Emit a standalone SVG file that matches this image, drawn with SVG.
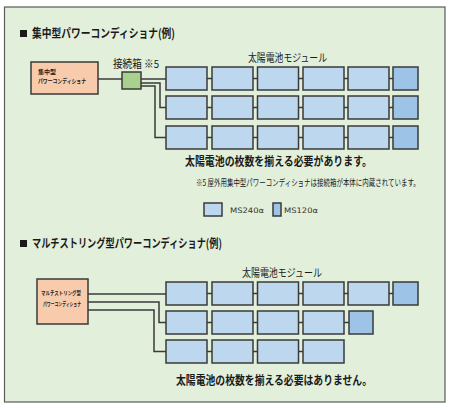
<svg xmlns="http://www.w3.org/2000/svg" width="450" height="410" viewBox="0 0 450 410">
<style>
.jp{font-family:"Noto Sans CJK JP","Noto Sans",sans-serif;fill:#1a1a1a}
.b{font-weight:bold}
.pl{fill:#bdd7ee;stroke:#3a3a3a;stroke-width:1.5}
.ps{fill:#9dc3e6;stroke:#3a3a3a;stroke-width:1.5}
.inv{fill:#f8cbad;stroke:#3a3a3a;stroke-width:1.5}
.jb{fill:#a9d18e;stroke:#3a3a3a;stroke-width:1.5}
.w{fill:none;stroke:#3a3a3a;stroke-width:1.5}
.lat{font-family:"DejaVu Sans",sans-serif;fill:#333}
</style>
<rect x="0" y="0" width="450" height="410" fill="#ffffff"/>
<rect id="frame" x="4.5" y="7" width="440.5" height="395" fill="#e2efda" stroke="#5a5a5a" stroke-width="1.2"/>

<g id="title1">
<rect x="20" y="30" width="7" height="7" fill="#1a1a1a"/>
<text class="jp b" x="32" y="38" font-size="12" textLength="143" lengthAdjust="spacingAndGlyphs">集中型パワーコンディショナ(例)</text>
</g>

<g id="connectors">
<path class="w" d="M98 79H122"/>
<path class="w" d="M141 79H166"/>
<path class="w" d="M141 83H160V107.5H166"/>
<path class="w" d="M141 86H155V137.5H166"/>
<path class="w" d="M207 78.5H212M253 78.5H257.5M298.5 78.5H303M344 78.5H348M389 78.5H393"/>
<path class="w" d="M207 107.5H212M253 107.5H257.5M298.5 107.5H303M344 107.5H348M389 107.5H393"/>
<path class="w" d="M207 137.5H212M253 137.5H257.5M298.5 137.5H303M344 137.5H348M389 137.5H393"/>
<path class="w" d="M88 294H166"/>
<path class="w" d="M88 302H159V322.5H166"/>
<path class="w" d="M88 310H154V351.5H166"/>
<path class="w" d="M207 293.5H212M253 293.5H257.5M298.5 293.5H303M344 293.5H348M389 293.5H393"/>
<path class="w" d="M207 322.5H212M253 322.5H257.5M298.5 322.5H303M344 322.5H349"/>
<path class="w" d="M207 351.5H212M253 351.5H257.5M298.5 351.5H303"/>
</g>

<g id="inverter1">
<rect class="inv" x="31" y="62" width="67" height="32"/>
<text class="jp b" x="38" y="74" font-size="6">集中型</text>
<text class="jp b" x="38" y="83" font-size="6" textLength="48" lengthAdjust="spacingAndGlyphs">パワーコンディショナ</text>
</g>

<g id="junction">
<rect class="jb" x="122" y="72" width="19" height="17"/>
<text class="jp" x="113" y="68" font-size="11" textLength="46" lengthAdjust="spacingAndGlyphs">接続箱 ※5</text>
</g>

<g id="modules1">
<text class="jp" x="248" y="62" font-size="11" textLength="79" lengthAdjust="spacingAndGlyphs">太陽電池モジュール</text>
<rect class="pl" x="166" y="67" width="41" height="23"/>
<rect class="pl" x="212" y="67" width="41" height="23"/>
<rect class="pl" x="257.5" y="67" width="41" height="23"/>
<rect class="pl" x="303" y="67" width="41" height="23"/>
<rect class="pl" x="348" y="67" width="41" height="23"/>
<rect class="ps" x="393" y="67" width="25" height="23"/>
<rect class="pl" x="166" y="96" width="41" height="23"/>
<rect class="pl" x="212" y="96" width="41" height="23"/>
<rect class="pl" x="257.5" y="96" width="41" height="23"/>
<rect class="pl" x="303" y="96" width="41" height="23"/>
<rect class="pl" x="348" y="96" width="41" height="23"/>
<rect class="ps" x="393" y="96" width="25" height="23"/>
<rect class="pl" x="166" y="126" width="41" height="23"/>
<rect class="pl" x="212" y="126" width="41" height="23"/>
<rect class="pl" x="257.5" y="126" width="41" height="23"/>
<rect class="pl" x="303" y="126" width="41" height="23"/>
<rect class="pl" x="348" y="126" width="41" height="23"/>
<rect class="ps" x="393" y="126" width="25" height="23"/>
</g>

<g id="notes1">
<text class="jp b" x="185" y="166" font-size="12" textLength="187" lengthAdjust="spacingAndGlyphs">太陽電池の枚数を揃える必要があります。</text>
<text class="jp" transform="translate(196,185.5) scale(0.72,1)" x="0" y="0" font-size="9">※5 屋外用集中型パワーコンディショナは接続箱が本体に内蔵されています。</text>
</g>

<g id="legend">
<rect class="pl" x="204" y="203" width="18" height="13"/>
<text class="lat" x="230" y="213" font-size="7.5" textLength="34" lengthAdjust="spacingAndGlyphs">MS240α</text>
<rect class="ps" x="273" y="203" width="8" height="13"/>
<text class="lat" x="284" y="213" font-size="7.5" textLength="34" lengthAdjust="spacingAndGlyphs">MS120α</text>
</g>

<g id="title2">
<rect x="20" y="240" width="7" height="7" fill="#1a1a1a"/>
<text class="jp b" x="32" y="248" font-size="12" textLength="190" lengthAdjust="spacingAndGlyphs">マルチストリング型パワーコンディショナ(例)</text>
</g>

<g id="inverter2">
<rect class="inv" x="37" y="279" width="51" height="45"/>
<text class="jp b" x="41" y="295" font-size="5.5" textLength="40" lengthAdjust="spacingAndGlyphs">マルチストリング型</text>
<text class="jp b" x="43" y="306" font-size="5.5" textLength="38" lengthAdjust="spacingAndGlyphs">パワーコンディショナ</text>
</g>

<g id="modules2">
<text class="jp" x="242" y="277" font-size="11" textLength="80" lengthAdjust="spacingAndGlyphs">太陽電池モジュール</text>
<rect class="pl" x="166" y="282" width="41" height="23"/>
<rect class="pl" x="212" y="282" width="41" height="23"/>
<rect class="pl" x="257.5" y="282" width="41" height="23"/>
<rect class="pl" x="303" y="282" width="41" height="23"/>
<rect class="pl" x="348" y="282" width="41" height="23"/>
<rect class="ps" x="393" y="282" width="25" height="23"/>
<rect class="pl" x="166" y="311" width="41" height="23"/>
<rect class="pl" x="212" y="311" width="41" height="23"/>
<rect class="pl" x="257.5" y="311" width="41" height="23"/>
<rect class="pl" x="303" y="311" width="41" height="23"/>
<rect class="ps" x="349" y="311" width="24" height="23"/>
<rect class="pl" x="166" y="340" width="41" height="23"/>
<rect class="pl" x="212" y="340" width="41" height="23"/>
<rect class="pl" x="257.5" y="340" width="41" height="23"/>
<rect class="pl" x="303" y="340" width="41" height="23"/>
</g>

<g id="notes2">
<text class="jp b" x="176" y="385" font-size="12" textLength="196" lengthAdjust="spacingAndGlyphs">太陽電池の枚数を揃える必要はありません。</text>
</g>
</svg>
